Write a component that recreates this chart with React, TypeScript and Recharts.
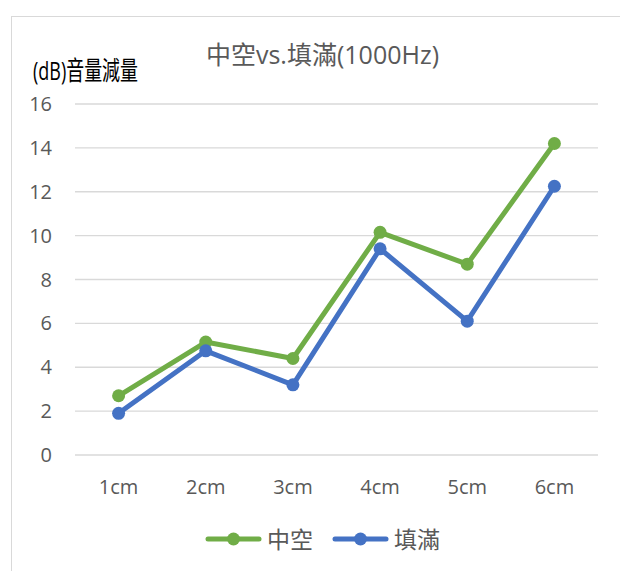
import React from 'react'
import { LineChart, Line, XAxis, YAxis, CartesianGrid, Legend } from 'recharts'

const categories = ['1cm', '2cm', '3cm', '4cm', '5cm', '6cm']
const hollowValues = [2.7, 5.15, 4.4, 10.15, 8.7, 14.2]
const filledValues = [1.9, 4.75, 3.2, 9.4, 6.1, 12.25]
const yTicks = [0, 2, 4, 6, 8, 10, 12, 14, 16]

const GREEN = '#70AD47'
const BLUE = '#4472C4'
const TEXT = '#595959'
const FONT = "'Open Sans', 'Noto Sans CJK TC', sans-serif"

const data = categories.map((name, i) => ({
  name,
  hollow: hollowValues[i],
  filled: filledValues[i],
}))

function LegendItems() {
  const items = [
    { label: '中空', color: GREEN },
    { label: '填滿', color: BLUE },
  ]
  return (
    <div style={{ display: 'flex', alignItems: 'center', height: 40, gap: 19 }}>
      {items.map((it) => (
        <div key={it.label} style={{ display: 'flex', alignItems: 'center', gap: 5 }}>
          <svg width={57} height={16}>
            <line x1={3} y1={8} x2={54} y2={8} stroke={it.color} strokeWidth={5} strokeLinecap="round" />
            <circle cx={28.5} cy={8} r={6.5} fill={it.color} />
          </svg>
          <span style={{ fontFamily: FONT, fontSize: 23, color: TEXT, lineHeight: '40px' }}>{it.label}</span>
        </div>
      ))}
    </div>
  )
}

export default function App() {
  return (
    <div style={{ position: 'fixed', left: 0, top: 0, width: 620, height: 571, overflow: 'hidden', background: '#fff' }}>
      <div
        style={{
          position: 'absolute',
          left: 11,
          top: 16,
          width: 622,
          height: 600,
          border: '1px solid #d9d9d9',
          background: '#fff',
        }}
      >
        <LineChart
          width={608}
          height={554}
          data={data}
          margin={{ top: 87, right: 22, left: 13, bottom: 10 }}
        >
          <CartesianGrid vertical={false} stroke="#d9d9d9" strokeWidth={1.3} />
          <XAxis
            dataKey="name"
            axisLine={false}
            tickLine={false}
            tickSize={0}
            tickMargin={25}
            height={66}
            padding={{ left: 43.6, right: 43.6 }}
            tick={{ fill: TEXT, fontSize: 20, fontFamily: FONT }}
          />
          <YAxis
            domain={[0, 16]}
            ticks={yTicks}
            width={50}
            axisLine={false}
            tickLine={false}
            tickSize={0}
            tickMargin={23}
            tick={{ fill: TEXT, fontSize: 20, fontFamily: FONT }}
          />
          <Legend
            verticalAlign="bottom"
            content={() => <LegendItems />}
            wrapperStyle={{ left: 193, top: 502, width: 300 }}
          />
          <Line
            dataKey="hollow"
            name="中空"
            stroke={GREEN}
            strokeWidth={5}
            strokeLinejoin="round"
            dot={{ r: 6.5, fill: GREEN, stroke: 'none' }}
            isAnimationActive={false}
          />
          <Line
            dataKey="filled"
            name="填滿"
            stroke={BLUE}
            strokeWidth={5}
            strokeLinejoin="round"
            dot={{ r: 6.5, fill: BLUE, stroke: 'none' }}
            isAnimationActive={false}
          />
        </LineChart>
      </div>
      {/* chart title */}
      <svg style={{ position: 'absolute', left: 0, top: 0 }} width={620} height={100}>
        <text x={322.5} y={64} textAnchor="middle" fill={TEXT} fontSize={25} fontFamily={FONT}>
          中空vs.填滿(1000Hz)
        </text>
        {/* narrow y-axis title */}
        <text
          x={33}
          y={80}
          fill="#000"
          fontSize={26}
          fontFamily={FONT}
          textLength={105}
          lengthAdjust="spacingAndGlyphs"
        >
          (dB)音量減量
        </text>
      </svg>
    </div>
  )
}
